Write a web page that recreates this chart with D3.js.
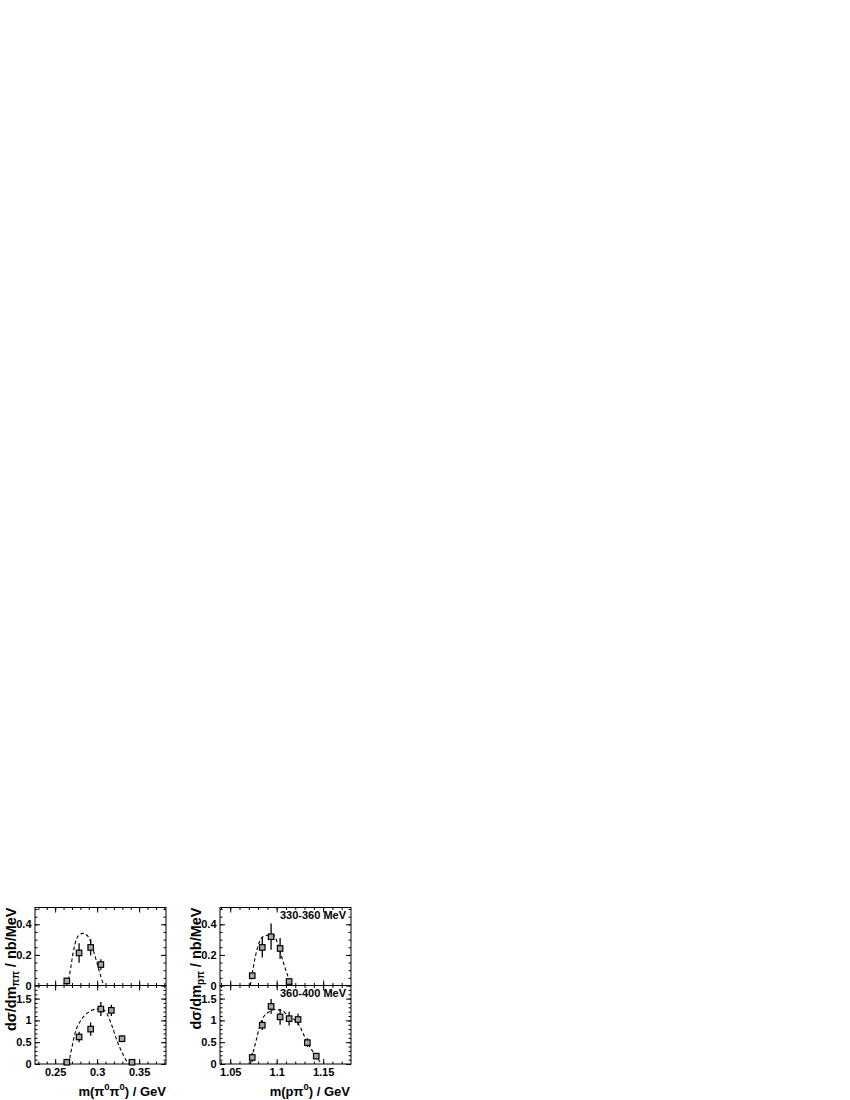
<!DOCTYPE html>
<html>
<head>
<meta charset="utf-8">
<script src="https://cdn.jsdelivr.net/npm/d3@7"></script>
<style>
  html, body { margin: 0; padding: 0; background: #fff; }
  svg { display: block; }
</style>
</head>
<body>
<svg id="chart" width="850" height="1100"></svg>
<script>
// ---------- data ----------
const xDomainPiPi = [0.226, 0.382];
const xDomainPPi = [1.039, 1.18];
const yDomainTop = [0, 0.51];
const yDomainBot = [0, 1.8];

const xTicksPiPi = [0.25, 0.3, 0.35];
const xTicksPPi = [1.05, 1.1, 1.15];
const yTicksTop = [0, 0.2, 0.4];
const yTicksBot = [0, 0.5, 1, 1.5];

const energyLabels = ["330-360 MeV", "360-400 MeV"];

// m(pi0 pi0), 330-360 MeV
const mPiPi330 = [0.2639, 0.2785, 0.2923, 0.3044];
const dPiPi330 = [0.03, 0.213, 0.249, 0.137];
const ePiPi330 = [0.015, 0.064, 0.053, 0.035];
// m(pi0 pi0), 360-400 MeV
const mPiPi360 = [0.2639, 0.2785, 0.2923, 0.3044, 0.3169, 0.3296, 0.3415];
const dPiPi360 = [0.04, 0.62, 0.80, 1.26, 1.23, 0.58, 0.04];
const ePiPi360 = [0.02, 0.12, 0.15, 0.16, 0.13, 0.08, 0.02];
// m(p pi0), 330-360 MeV
const mPPi330 = [1.0737, 1.0845, 1.094, 1.1037, 1.1134];
const dPPi330 = [0.064, 0.249, 0.319, 0.242, 0.026];
const ePPi330 = [0.022, 0.066, 0.086, 0.068, 0.01];
// m(p pi0), 360-400 MeV
const mPPi360 = [1.0737, 1.0845, 1.094, 1.1037, 1.1134, 1.123, 1.133, 1.1426];
const dPPi360 = [0.15, 0.89, 1.32, 1.08, 1.04, 1.02, 0.49, 0.18];
const ePPi360 = [0.10, 0.11, 0.17, 0.18, 0.16, 0.13, 0.10, 0.06];

// dashed model curves
const curvePiPi330X = [0.2638, 0.2677, 0.2716, 0.2757, 0.2796, 0.2828, 0.2867, 0.2915, 0.2954, 0.2995, 0.3034, 0.3073, 0.3082];
const curvePiPi330Y = [0, 0.088, 0.22, 0.308, 0.334, 0.341, 0.334, 0.297, 0.231, 0.154, 0.077, 0.011, 0];
const curvePiPi360X = [0.2652, 0.2657, 0.2697, 0.2736, 0.2796, 0.2855, 0.2915, 0.2995, 0.3054, 0.3114, 0.3174, 0.3233, 0.3293, 0.3344, 0.3391];
const curvePiPi360Y = [0, 0.016, 0.36, 0.70, 0.97, 1.12, 1.21, 1.26, 1.26, 1.16, 0.89, 0.55, 0.28, 0.09, 0];
const curvePPi330X = [1.0716, 1.0737, 1.0766, 1.0802, 1.0838, 1.0881, 1.0928, 1.0974, 1.101, 1.1046, 1.1081, 1.1118, 1.1153, 1.1167];
const curvePPi330Y = [0, 0.077, 0.176, 0.264, 0.312, 0.325, 0.33, 0.325, 0.275, 0.203, 0.132, 0.066, 0.011, 0];
const curvePPi360X = [1.0716, 1.0748, 1.0785, 1.082, 1.0856, 1.0909, 1.0981, 1.1053, 1.1124, 1.1232, 1.1285, 1.1328, 1.1376, 1.1425, 1.1483];
const curvePPi360Y = [0, 0.28, 0.59, 0.89, 1.07, 1.18, 1.25, 1.23, 1.10, 0.93, 0.70, 0.49, 0.33, 0.17, 0];

// ---------- layout ----------
const FONT = "'Liberation Sans', Arial, Helvetica, sans-serif";
const svg = d3.select("#chart");
svg.append("rect").attr("width", 850).attr("height", 1100).attr("fill", "#fff");

const xPiPi = d3.scaleLinear().domain(xDomainPiPi).range([35, 166]);
const xPPi = d3.scaleLinear().domain(xDomainPPi).range([220, 351]);
const yTop = d3.scaleLinear().domain(yDomainTop).range([985.5, 907.5]);
const yBot = d3.scaleLinear().domain(yDomainBot).range([1064, 985.5]);

const panels = [
  { x: xPiPi, y: yTop, xt: xTicksPiPi, yt: yTicksTop, yMinStep: 0.05, m: mPiPi330, d: dPiPi330, e: ePiPi330, cx: curvePiPi330X, cy: curvePiPi330Y, xLabels: false, label: null },
  { x: xPiPi, y: yBot, xt: xTicksPiPi, yt: yTicksBot, yMinStep: 0.1, m: mPiPi360, d: dPiPi360, e: ePiPi360, cx: curvePiPi360X, cy: curvePiPi360Y, xLabels: true, label: null },
  { x: xPPi, y: yTop, xt: xTicksPPi, yt: yTicksTop, yMinStep: 0.05, m: mPPi330, d: dPPi330, e: ePPi330, cx: curvePPi330X, cy: curvePPi330Y, xLabels: false, label: energyLabels[0] },
  { x: xPPi, y: yBot, xt: xTicksPPi, yt: yTicksBot, yMinStep: 0.1, m: mPPi360, d: dPPi360, e: ePPi360, cx: curvePPi360X, cy: curvePPi360Y, xLabels: true, label: energyLabels[1] }
];

function styleAxis(g) {
  g.select(".domain").remove();
  g.selectAll("line").attr("stroke", "#000").attr("stroke-width", 1);
  g.selectAll("text").attr("font-family", FONT).attr("font-weight", "bold").attr("font-size", 11).attr("fill", "#000");
}

panels.forEach(p => {
  const [x0, x1] = p.x.range();
  const [yb, yt] = p.y.range();
  const g = svg.append("g");

  const xMinor = d3.range(Math.ceil(p.x.domain()[0] * 100) / 100, p.x.domain()[1], 0.01);
  const yMinor = d3.range(0, p.y.domain()[1], p.yMinStep);

  // bottom axis (ticks inward)
  g.append("g").attr("transform", `translate(0,${yb})`)
    .call(d3.axisBottom(p.x).tickValues(xMinor).tickSize(-2.5).tickFormat(""))
    .call(styleAxis);
  g.append("g").attr("transform", `translate(0,${yb})`)
    .call(d3.axisBottom(p.x).tickValues(p.xt).tickSize(-5).tickPadding(4)
      .tickFormat(p.xLabels ? d3.format("") : ""))
    .call(styleAxis);
  // top axis mirror
  g.append("g").attr("transform", `translate(0,${yt})`)
    .call(d3.axisTop(p.x).tickValues(xMinor).tickSize(-2.5).tickFormat(""))
    .call(styleAxis);
  g.append("g").attr("transform", `translate(0,${yt})`)
    .call(d3.axisTop(p.x).tickValues(p.xt).tickSize(-5).tickFormat(""))
    .call(styleAxis);
  // left axis
  g.append("g").attr("transform", `translate(${x0},0)`)
    .call(d3.axisLeft(p.y).tickValues(yMinor).tickSize(-2.5).tickFormat(""))
    .call(styleAxis);
  g.append("g").attr("transform", `translate(${x0},0)`)
    .call(d3.axisLeft(p.y).tickValues(p.yt).tickSize(-5).tickPadding(3.5).tickFormat(d3.format("")))
    .call(styleAxis);
  // right axis mirror
  g.append("g").attr("transform", `translate(${x1},0)`)
    .call(d3.axisRight(p.y).tickValues(yMinor).tickSize(-2.5).tickFormat(""))
    .call(styleAxis);
  g.append("g").attr("transform", `translate(${x1},0)`)
    .call(d3.axisRight(p.y).tickValues(p.yt).tickSize(-5).tickFormat(""))
    .call(styleAxis);

  // frame
  g.append("rect").attr("x", x0).attr("y", yt).attr("width", x1 - x0).attr("height", yb - yt)
    .attr("fill", "none").attr("stroke", "#000").attr("stroke-width", 1);

  // dashed curve
  const line = d3.line().x(d => p.x(d[0])).y(d => p.y(d[1])).curve(d3.curveMonotoneX);
  g.append("path").datum(p.cx.map((v, i) => [v, p.cy[i]]))
    .attr("d", line).attr("fill", "none").attr("stroke", "#000")
    .attr("stroke-width", 1.1).attr("stroke-dasharray", "3.5,2.5");

  // error bars
  const pts = p.m.map((v, i) => ({ m: v, d: p.d[i], e: p.e[i] }));
  g.selectAll(".err").data(pts).enter().append("line")
    .attr("x1", d => p.x(d.m)).attr("x2", d => p.x(d.m))
    .attr("y1", d => p.y(Math.max(0, d.d - d.e))).attr("y2", d => p.y(d.d + d.e))
    .attr("stroke", "#000").attr("stroke-width", 1.3);
  // markers
  const s = 5.5;
  g.selectAll(".mk").data(pts).enter().append("rect")
    .attr("x", d => p.x(d.m) - s / 2).attr("y", d => p.y(d.d) - s / 2)
    .attr("width", s).attr("height", s)
    .attr("fill", "#a8a8a8").attr("stroke", "#000").attr("stroke-width", 1.2);

  if (p.label) {
    g.append("text").attr("x", x1 - 5).attr("y", yt + 11)
      .attr("text-anchor", "end").attr("font-family", FONT).attr("font-weight", "bold")
      .attr("font-size", 11).text(p.label);
  }
});

// axis titles
function xTitle(xEnd, parts) {
  const t = svg.append("text").attr("x", xEnd).attr("y", 1090)
    .attr("text-anchor", "end").attr("font-family", FONT).attr("font-weight", "bold").attr("font-size", 13);
  parts.forEach(([str, sup]) => {
    if (sup) {
      t.append("tspan").attr("dy", -6).attr("font-size", 9.5).text(str);
    } else {
      t.append("tspan").attr("dy", t.node().childNodes.length ? 6 : 0).text(str);
    }
  });
}
xTitle(166, [["m(π", false], ["0", true], ["π", false], ["0", true], [") / GeV", false]]);
xTitle(350, [["m(pπ", false], ["0", true], [") / GeV", false]]);

function yTitle(xc, sub) {
  const t = svg.append("text").attr("transform", `translate(${xc},907.5) rotate(-90)`)
    .attr("text-anchor", "end").attr("font-family", FONT).attr("font-weight", "bold").attr("font-size", 14.5);
  t.append("tspan").text("dσ/dm");
  t.append("tspan").attr("dy", 3).attr("font-size", 10).text(sub);
  t.append("tspan").attr("dy", -3).text(" / nb/MeV");
}
yTitle(15.5, "ππ");
yTitle(200.5, "pπ");
</script>
</body>
</html>
